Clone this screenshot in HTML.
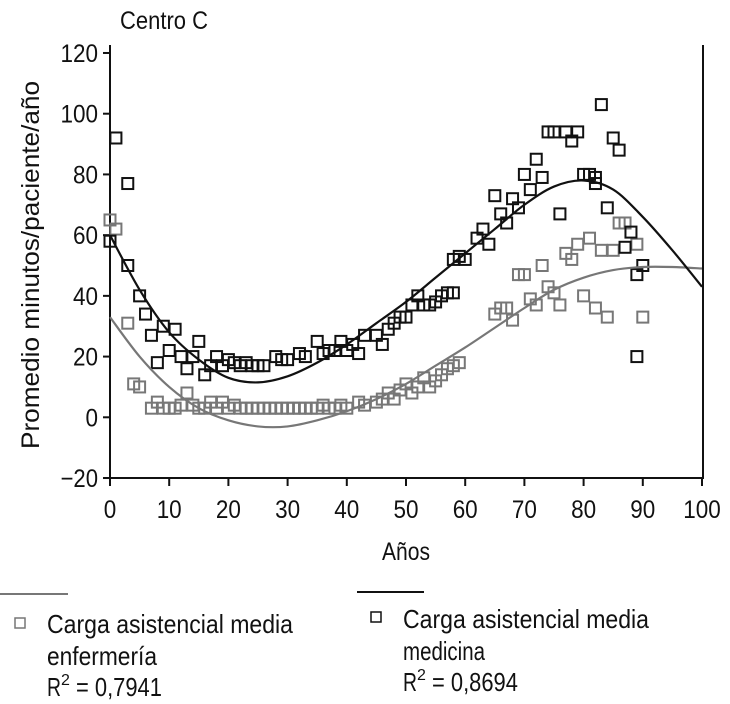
<!DOCTYPE html>
<html><head><meta charset="utf-8"><style>
body{margin:0;background:#fff}
svg{display:block;font-family:"Liberation Sans",sans-serif}
</style></head><body>
<svg id="chart" width="730" height="704" viewBox="0 0 730 704" xmlns="http://www.w3.org/2000/svg"></svg>
<script>
const medAges=[1,3,0,3,5,6,7,8,9,10,11,12,13,14,15,16,17,18,19,20,21,22,23,24,25,26,28,29,30,32,33,35,36,37,38,39,40,41,42,43,45,46,47,48,49,50,51,52,53,54,55,56,57,58,58,59,60,62,63,64,65,66,67,68,69,70,71,72,73,74,75,76,77,78,79,80,81,82,82,83,84,85,86,87,88,89,89,90];
const medVals=[92,77,58,50,40,34,27,18,30,22,29,20,16,20,25,14,17,20,17,19,18,17,18,17,17,17,20,19,19,21,20,25,21,22,22,25,22,24,21,27,27,24,29,31,33,33,37,40,37,37,38,40,41,41,52,53,52,59,62,57,73,67,64,72,69,80,75,85,79,94,94,67,94,91,94,80,80,77,79,103,69,92,88,56,61,47,20,50];
const nurAges=[0,1,3,4,5,7,8,9,10,11,12,13,14,15,16,17,18,19,20,21,22,23,24,25,26,27,28,29,30,31,32,33,34,35,36,37,38,39,40,42,43,45,46,47,48,49,50,51,52,53,54,55,56,57,58,59,65,66,67,68,69,70,71,72,73,74,75,76,77,78,79,80,81,82,83,84,85,86,87,89,90];
const nurVals=[65,62,31,11,10,3,5,3,3,3,4,8,4,3,3,5,3,5,3,4,3,3,3,3,3,3,3,3,3,3,3,3,3,3,4,3,3,4,3,5,4,5,6,8,6,9,11,8,10,13,10,12,14,16,17,18,34,36,36,32,47,47,39,37,50,43,41,37,54,52,57,40,59,36,55,33,55,64,64,57,33];
const trendAges=[0,5,10,15,20,25,30,35,40,45,50,55,60,65,70,75,80,85,90,95,100];
const medTrend=[60,42,28,19,13,11.5,13.5,18,24,31,38,46,54,62,70,76,78,75,66,55,43];
const nurTrend=[33,20,10,3,-1,-3,-3,-1,2,6,11,17,23,29.5,36,42,46,48.5,49.5,49.5,49];
const yTicks=[120,100,80,60,40,20,0,-20];
const xTicks=[0,10,20,30,40,50,60,70,80,90,100];

const svg=document.getElementById('chart');
const NS='http://www.w3.org/2000/svg';
const X=v=>110+v*5.92;
const Y=v=>417.3-v*3.036;
function mk(tag,attrs,txt){const e=document.createElementNS(NS,tag);for(const k in attrs)e.setAttribute(k,attrs[k]);if(txt!=null)e.textContent=txt;svg.appendChild(e);return e;}

let t=mk('text',{x:120,y:29,'font-size':25,fill:'#111',textLength:88,lengthAdjust:'spacingAndGlyphs'},'Centro C');



let a=mk('line',{x1:110,y1:45,x2:110,y2:478,stroke:'#111','stroke-width':2});


a=mk('line',{x1:104,y1:478,x2:704,y2:478,stroke:'#111','stroke-width':2});


a=mk('line',{x1:703,y1:45,x2:703,y2:478,stroke:'#111','stroke-width':2});



yTicks.forEach(v=>{
  const l=mk('line',{x1:103,y1:Y(v),x2:110,y2:Y(v),stroke:'#111','stroke-width':2});
  
  
  const s=v<0?'\u2212'+(-v):String(v);
  const tx=mk('text',{x:98,y:Y(v)+9,'font-size':25,'text-anchor':'end',fill:'#111',textLength:s.length*12.5,lengthAdjust:'spacingAndGlyphs'},s);
  
  
});
xTicks.forEach(v=>{
  const l=mk('line',{x1:X(v),y1:478,x2:X(v),y2:486,stroke:'#111','stroke-width':2});
  
  
  const s=String(v);
  const tx=mk('text',{x:X(v),y:518,'font-size':25,'text-anchor':'middle',fill:'#111',textLength:s.length*12.5,lengthAdjust:'spacingAndGlyphs'},s);
  
  
});
t=mk('text',{x:406,y:560,'font-size':25,'text-anchor':'middle',fill:'#111',textLength:48,lengthAdjust:'spacingAndGlyphs'},'Años');


t=mk('text',{x:0,y:0,'font-size':25,'text-anchor':'middle',fill:'#111',textLength:368,lengthAdjust:'spacingAndGlyphs',transform:'translate(39,265) rotate(-90)'},'Promedio minutos/paciente/año');



function curve(vals){
  const p=trendAges.map((a,i)=>[X(a),Y(vals[i])]);
  let d='M'+p[0][0]+','+p[0][1];
  for(let i=0;i<p.length-1;i++){
    const p0=p[i-1]||p[i],p1=p[i],p2=p[i+1],p3=p[i+2]||p2;
    const c1=[p1[0]+(p2[0]-p0[0])/6,p1[1]+(p2[1]-p0[1])/6];
    const c2=[p2[0]-(p3[0]-p1[0])/6,p2[1]-(p3[1]-p1[1])/6];
    d+=`C${c1[0]},${c1[1]} ${c2[0]},${c2[1]} ${p2[0]},${p2[1]}`;
  }
  return d;
}
function pts(ages,vals,col,name){
  ages.forEach((ag,i)=>{
    const r=mk('rect',{x:X(ag)-5.5,y:Y(vals[i])-5.5,width:11,height:11,fill:'none',stroke:col,'stroke-width':2});
    
    
  });
}
pts(nurAges,nurVals,'#777','nursing-point');
pts(medAges,medVals,'#111','medicine-point');
let c=mk('path',{d:curve(nurTrend),fill:'none',stroke:'#777','stroke-width':2.2});


c=mk('path',{d:curve(medTrend),fill:'none',stroke:'#111','stroke-width':2.2});



function legend(lx,ly,lx2,mx,my,tx,by,l2,l2w,r2,col,name){
  const l=mk('line',{x1:lx,y1:ly,x2:lx2,y2:ly,stroke:col,'stroke-width':2});
  
  
  const r=mk('rect',{x:mx,y:my,width:10,height:10,fill:'none',stroke:col,'stroke-width':1.5});
  
  
  const t1=mk('text',{x:tx,y:by,'font-size':26,fill:'#111',textLength:246,lengthAdjust:'spacingAndGlyphs'},'Carga asistencial media');
  
  
  const t2=mk('text',{x:tx,y:by+32,'font-size':26,fill:'#111',textLength:l2w,lengthAdjust:'spacingAndGlyphs'},l2);
  
  
  const t3=mk('text',{x:tx,y:by+63,'font-size':26,fill:'#111'});
  
  
  t3.innerHTML='<tspan textLength="14" lengthAdjust="spacingAndGlyphs">R</tspan><tspan dy="-11" font-size="16">2</tspan><tspan dy="11" textLength="92" lengthAdjust="spacingAndGlyphs"> = '+r2+'</tspan>';
}
legend(0,594,68,15,618,47,633,'enfermería',110,'0,7941','#777','legend-nursing');
legend(357,592,424,371,612,403,628,'medicina',82,'0,8694','#111','legend-medicine');
</script>
</body></html>
